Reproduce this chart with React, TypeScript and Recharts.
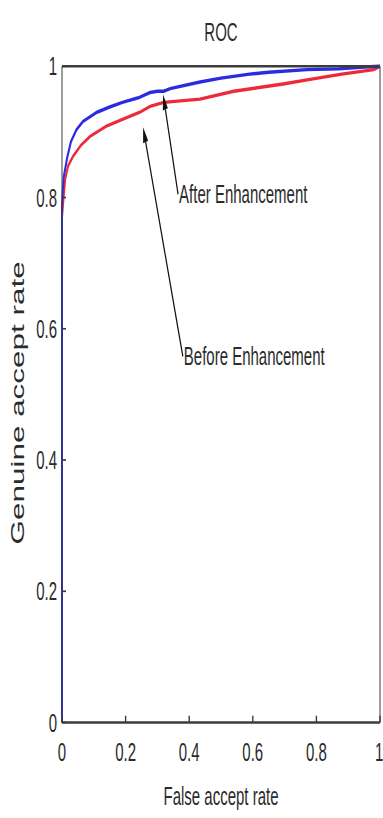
import { LineChart, Line, XAxis, YAxis, ReferenceLine } from "recharts"

// the source figure is squeezed sideways, so everything is drawn flat and stretched
const STRETCH = 1.7
const W = 383
const H = Math.round(818 / STRETCH)

const chartTitle = "ROC"
const xTitle = "False accept rate"
const yTitle = "Genuine accept rate"
const axisTicks = [0, 0.2, 0.4, 0.6, 0.8, 1]

// After Enhancement (blue)
const afterFar = [0, 0, 0.005, 0.016, 0.028, 0.045, 0.066, 0.11, 0.15, 0.19, 0.24, 0.277, 0.3, 0.32, 0.34, 0.434, 0.5, 0.59, 0.65, 0.77, 0.87, 0.95, 1]
const afterGar = [0, 0.79, 0.83, 0.86, 0.885, 0.903, 0.916, 0.93, 0.938, 0.945, 0.952, 0.96, 0.962, 0.962, 0.966, 0.976, 0.982, 0.988, 0.991, 0.995, 0.996, 0.999, 1]

// Before Enhancement (red)
const beforeFar = [0, 0, 0.005, 0.01, 0.019, 0.035, 0.06, 0.088, 0.14, 0.19, 0.245, 0.277, 0.32, 0.434, 0.54, 0.695, 0.78, 0.88, 0.98, 1]
const beforeGar = [0, 0.77, 0.8, 0.828, 0.848, 0.863, 0.88, 0.893, 0.909, 0.919, 0.93, 0.939, 0.945, 0.95, 0.962, 0.973, 0.98, 0.988, 0.995, 1]

// annotation arrows: text anchor point -> arrow tip
const arrowNames = ["After Enhancement", "Before Enhancement"]
const arrowFrom = [[0.365, 0.805], [0.38, 0.558]]
const arrowTo = [[0.318, 0.957], [0.255, 0.907]]

const afterData = afterFar.map((x, i) => ({ x, y: afterGar[i] }))
const beforeData = beforeFar.map((x, i) => ({ x, y: beforeGar[i] }))

const font = "'Liberation Sans', Arial, sans-serif"
const ink = "#2b2b2b"
const axisColor = "#3c3c3c"

function Arrow(props: any) {
  const { x1, y1, x2, y2, text } = props
  const dx = x2 - x1
  const dy = y2 - y1
  const len = Math.sqrt(dx * dx + dy * dy) || 1
  const ux = dx / len
  const uy = dy / len
  const head = 9
  const half = 2.6
  const bx = x2 - ux * head
  const by = y2 - uy * head
  const pts = `${x2},${y2} ${bx - uy * half},${by + ux * half} ${bx + uy * half},${by - ux * half}`
  return (
    <g>
      <line x1={x1} y1={y1} x2={bx} y2={by} stroke="#111" strokeWidth={1.2} />
      <polygon points={pts} fill="#111" />
      <text x={x1 + 1} y={y1} fontSize={15} fill={ink} dominantBaseline="central" fontFamily={font}>
        {text}
      </text>
    </g>
  )
}

function YTitle(props: any) {
  const vb = props.viewBox || { x: 0, y: 0, width: 62, height: 0 }
  const cx = 24
  const cy = vb.y + vb.height / 2 + 5
  return (
    <text
      x={cx}
      y={cy}
      transform={`rotate(-90 ${cx} ${cy})`}
      textAnchor="middle"
      fontSize={18.5}
      fill={ink}
      fontFamily={font}
    >
      {yTitle}
    </text>
  )
}

export default function App() {
  return (
    <div style={{ position: "absolute", left: 0, top: 0, width: W, height: 818, overflow: "hidden", background: "#fff" }}>
      <div style={{ transform: `scaleY(${STRETCH})`, transformOrigin: "0 0" }}>
        <LineChart width={W} height={H} margin={{ top: 38, right: 2, bottom: 0, left: 0 }} style={{ fontFamily: font }}>
          <XAxis
            xAxisId="b"
            dataKey="x"
            type="number"
            domain={[0, 1]}
            ticks={axisTicks}
            tickFormatter={(v) => String(v)}
            height={56}
            tickSize={-4}
            tickMargin={16}
            stroke={axisColor}
            strokeWidth={1.4}
            tick={{ fill: ink, fontSize: 15 }}
            allowDuplicatedCategory={false}
            label={{ value: xTitle, position: "insideTop", offset: 38, fill: ink, fontSize: 15 }}
          />
          <XAxis
            xAxisId="t"
            orientation="top"
            dataKey="x"
            type="number"
            domain={[0, 1]}
            ticks={axisTicks}
            height={1}
            tickSize={-4}
            tick={false}
            stroke={axisColor}
            strokeWidth={1.4}
            allowDuplicatedCategory={false}
            label={{ value: chartTitle, position: "top", offset: 14, fill: ink, fontSize: 15 }}
          />
          <YAxis
            yAxisId="l"
            type="number"
            domain={[0, 1]}
            ticks={axisTicks}
            tickFormatter={(v) => String(v)}
            width={62}
            tickSize={-4}
            tickMargin={9}
            stroke={axisColor}
            tick={{ fill: ink, fontSize: 15 }}
            label={{ content: (p: any) => <YTitle {...p} /> }}
          />
          <YAxis
            yAxisId="r"
            orientation="right"
            type="number"
            domain={[0, 1]}
            ticks={axisTicks}
            width={1}
            tickSize={-4}
            tick={false}
            stroke={axisColor}
          />
          <Line
            xAxisId="b"
            yAxisId="l"
            data={beforeData}
            dataKey="y"
            stroke="#ec2a3a"
            strokeWidth={2}
            dot={false}
            isAnimationActive={false}
          />
          <Line
            xAxisId="b"
            yAxisId="l"
            data={afterData}
            dataKey="y"
            stroke="#2b2be2"
            strokeWidth={2}
            dot={false}
            isAnimationActive={false}
          />
          {arrowNames.map((name, i) => (
            <ReferenceLine
              key={name}
              xAxisId="b"
              yAxisId="l"
              segment={[
                { x: arrowFrom[i][0], y: arrowFrom[i][1] },
                { x: arrowTo[i][0], y: arrowTo[i][1] },
              ]}
              shape={(p: any) => <Arrow {...p} text={name} />}
            />
          ))}
        </LineChart>
      </div>
    </div>
  )
}
